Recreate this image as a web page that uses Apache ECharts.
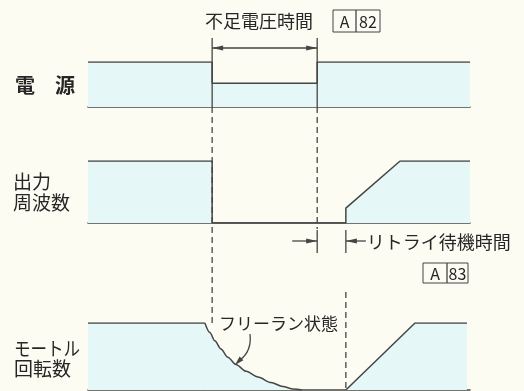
<!DOCTYPE html>
<html><head><meta charset="utf-8">
<script src="https://cdn.jsdelivr.net/npm/echarts@6/dist/echarts.min.js"></script>
<style>html,body{margin:0;padding:0;background:#fcfcf3}#c{width:524px;height:391px}</style>
</head><body><div id="c"></div>
<script>
// ---- data (time in arbitrary units 0..100, level 0..1) ----
const signalLabels = [['電　源'], ['出力', '周波数'], ['モートル', '回転数']];
const titleText = '不足電圧時間';
const retryText = 'リトライ待機時間';
const freeRunText = 'フリーラン状態';
const paramCodes = [['A', '82'], ['A', '83']];
const tDip = 32.5, tRestore = 60, tRetry = 67.5;

const powerT = [0, 32.5, 32.5, 60, 60, 100];
const powerV = [1, 1, 0.53, 0.53, 1, 1];

const freqT = [0, 32.5, 32.5, 67.5, 67.5, 81.7, 100];
const freqV = [1, 1, 0, 0, 0.24, 1, 1];

const motorRunT = [0, 30.6];
const motorRunV = [1, 1];
const motorCoastT = [30.6, 31.9, 33.2, 34.8, 36.6, 38.7, 41.4, 44.5, 47.9, 51.0, 53.7, 56.0];
const motorCoastV = [1, 0.857, 0.734, 0.612, 0.49, 0.382, 0.279, 0.193, 0.112, 0.052, 0.015, 0];
const motorRestartT = [67.5, 85.6, 99.2];
const motorRestartV = [0, 1, 1];

const zip = (a, b) => a.map((v, i) => [v, b[i]]);

const LINE = '#454545', FILL = '#e5f8f7', TXT = '#262626';
const FONT = '"Noto Sans CJK JP", "Noto Sans", sans-serif';

const chart = echarts.init(document.getElementById('c'), null, {renderer: 'canvas'});

const grids = [
  {left: 88, right: 54, top: 62, height: 45},
  {left: 88, right: 54, top: 161, height: 62},
  {left: 88, right: 54, top: 323, height: 67}
];
const xAxes = grids.map((g, i) => ({
  type: 'value', gridIndex: i, min: 0, max: 100,
  axisLine: {show: true, onZero: false, lineStyle: {color: LINE, width: 1.5}},
  axisTick: {show: false}, axisLabel: {show: false}, splitLine: {show: false}
}));
const yAxes = grids.map((g, i) => ({
  type: 'value', gridIndex: i, min: 0, max: 1, show: false, splitLine: {show: false}
}));
function sig(name, g, data, smooth) {
  return {
    name, type: 'line', xAxisIndex: g, yAxisIndex: g, data, symbol: 'none',
    smooth: smooth || false, smoothMonotone: 'x', silent: true, animation: false,
    lineStyle: {color: LINE, width: 1.5},
    areaStyle: {color: FILL, opacity: 1}
  };
}

chart.setOption({
  backgroundColor: '#fcfcf3',
  animation: false,
  grid: grids,
  xAxis: xAxes,
  yAxis: yAxes,
  series: [
    sig('電源', 0, zip(powerT, powerV)),
    sig('出力周波数', 1, zip(freqT, freqV)),
    sig('モートル回転数-run', 2, zip(motorRunT, motorRunV)),
    sig('モートル回転数-coast', 2, zip(motorCoastT, motorCoastV), 0.3),
    sig('モートル回転数-restart', 2, zip(motorRestartT, motorRestartV))
  ]
});

const X = t => chart.convertToPixel({xAxisIndex: 0}, t);
const Y = (g, v) => chart.convertToPixel({yAxisIndex: g}, v);

const G = [];
function line(x1, y1, x2, y2, dash) {
  G.push({type: 'line', shape: {x1, y1, x2, y2}, z: 10,
    style: {stroke: LINE, lineWidth: 1.3, lineDash: dash ? [6, 4] : null}});
}
function head(x, y, dir) {
  const L = 11, W = 2.6;
  G.push({type: 'polygon', z: 10,
    shape: {points: [[x, y], [x - dir * L, y - W], [x - dir * L, y + W]]},
    style: {fill: LINE}});
}
function text(str, x, y, size, opts) {
  opts = opts || {};
  const el = {type: 'text', z: 11, x, y,
    style: {text: str, fill: TXT, font: (opts.weight ? opts.weight + ' ' : '') + size + 'px ' + FONT,
      textAlign: opts.align || 'left', textVerticalAlign: 'middle'}};
  if (opts.scaleX) { el.scaleX = opts.scaleX; }
  G.push(el);
}
function codeBox(code, x, y, w, h, split) {
  G.push({type: 'rect', z: 10, shape: {x, y, width: w, height: h},
    style: {fill: 'none', stroke: LINE, lineWidth: 1}});
  line(x + split, y, x + split, y + h);
  text(code[0], x + split / 2, y + h / 2 + 1, 16, {align: 'center'});
  text(code[1], x + split + (w - split) / 2, y + h / 2 + 1, 16, {align: 'center'});
}

const xd = X(tDip), xr = X(tRestore), xt = X(tRetry);
const pBot = Y(0, 0), fBot = Y(1, 0), mTop = Y(2, 1), mBot = Y(2, 0);

// undervoltage time markers
line(xd, 38, xd, pBot); line(xr, 38, xr, pBot);
line(xd, 48, xr, 48); head(xd, 48, -1); head(xr, 48, 1);
line(xd, pBot, xd, mTop + 2, true);
line(xr, pBot, xr, fBot + 6, true);

// retry wait markers
line(xr, 230, xr, 253); line(xt, 230, xt, 253);
line(xr - 25, 241, xr, 241); head(xr, 241, 1);
line(xt + 20, 241, xt, 241); head(xt, 241, -1);
line(xt, 292, xt, mBot, true);

// texts
text(titleText, 205, 21, 18);
codeBox(paramCodes[0], 333, 10, 47, 22, 23);
text(retryText, xt + 21, 242, 18);
codeBox(paramCodes[1], 423, 263, 45, 20, 24);
text(freeRunText, 219, 324, 17);

text(signalLabels[0][0], 15, 85, 20, {weight: 'bold'});
text(signalLabels[1][0], 13, 182, 19);
text(signalLabels[1][1], 13, 203, 19);
text(signalLabels[2][0], 14, 349, 19, {scaleX: 0.87});
text(signalLabels[2][1], 14, 369, 19);

// callout arrow for free-run
G.push({type: 'bezierCurve', z: 10,
  shape: {x1: 250, y1: 334, x2: 240, y2: 360, cpx1: 252, cpy1: 351},
  style: {stroke: LINE, lineWidth: 1.3, fill: 'none'}});
G.push({type: 'polygon', z: 10,
  shape: {points: [[235, 365], [243.4, 360.2], [239.6, 356.6]]}, style: {fill: LINE}});

chart.setOption({graphic: G});
</script></body></html>
